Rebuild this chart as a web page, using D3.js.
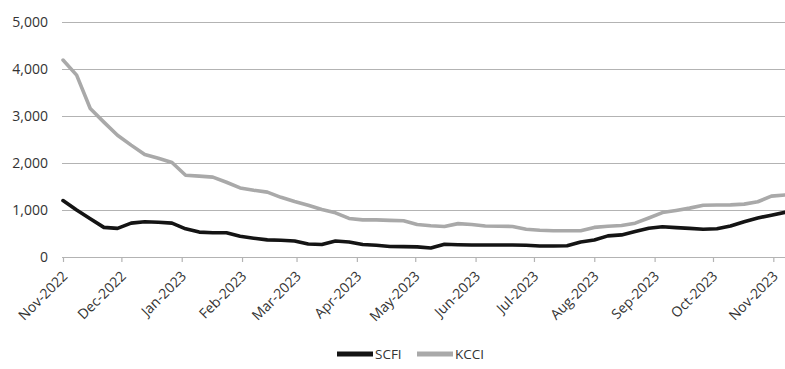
<!DOCTYPE html>
<html>
<head>
<meta charset="utf-8">
<script src="https://cdn.jsdelivr.net/npm/d3@7/dist/d3.min.js"></script>
<style>
  html, body { margin: 0; padding: 0; background: #fff; }
  svg { display: block; }
  text { font-family: "Open Sans", sans-serif; fill: #333; }
</style>
</head>
<body>
<svg id="chart" width="785" height="369"></svg>
<script>
// Weekly observation dates
const dates = [
  "2022-11-01","2022-11-08","2022-11-15","2022-11-22","2022-11-29",
  "2022-12-06","2022-12-13","2022-12-20","2022-12-27",
  "2023-01-03","2023-01-10","2023-01-17","2023-01-24","2023-01-31",
  "2023-02-07","2023-02-14","2023-02-21","2023-02-28",
  "2023-03-07","2023-03-14","2023-03-21","2023-03-28",
  "2023-04-04","2023-04-11","2023-04-18","2023-04-25",
  "2023-05-02","2023-05-09","2023-05-16","2023-05-23","2023-05-30",
  "2023-06-06","2023-06-13","2023-06-20","2023-06-27",
  "2023-07-04","2023-07-11","2023-07-18","2023-07-25",
  "2023-08-01","2023-08-08","2023-08-15","2023-08-22","2023-08-29",
  "2023-09-05","2023-09-12","2023-09-19","2023-09-26",
  "2023-10-03","2023-10-10","2023-10-17","2023-10-24","2023-10-31",
  "2023-11-07"
];

// SCFI index values
const scfi = [
  1200, 1000, 815, 630, 610,
  720, 750, 740, 720,
  600, 530, 515, 515, 440,
  400, 365, 355, 340,
  275, 265, 340, 320,
  265, 250, 225, 220,
  215, 190, 270, 262, 255,
  255, 255, 255, 250,
  234, 234, 240, 320,
  360, 450, 470, 540, 610,
  645, 625, 610, 590,
  600, 660, 750, 830, 890,
  950
];

// KCCI index values
const kcci = [
  4190, 3870, 3160, 2870, 2590,
  2380, 2180, 2100, 2010,
  1740, 1720, 1700, 1590, 1470,
  1420, 1380, 1270, 1180,
  1100, 1010, 940, 820,
  790, 790, 780, 770,
  690, 665, 650, 710, 690,
  660, 655, 650, 590,
  570, 560, 560, 560,
  630, 655, 670, 720, 830,
  945, 990, 1040, 1100,
  1105, 1110, 1125, 1175, 1295,
  1320
];

const yTicks = [0, 1000, 2000, 3000, 4000, 5000];

const seriesNames = ["SCFI", "KCCI"];
const seriesColors = ["#141414", "#a9a9a9"];

const svg = d3.select("#chart");
const parse = d3.utcParse("%Y-%m-%d");
const fmtMonth = d3.utcFormat("%b-%Y");

const x = d3.scaleUtc()
  .domain([parse("2022-11-01"), parse("2023-11-07")])
  .range([63, 785]);

const y = d3.scaleLinear()
  .domain([0, 5000])
  .range([257, 22]);

// Horizontal gridlines with value labels
const yAxis = svg.append("g")
  .attr("transform", "translate(62,0)")
  .call(d3.axisLeft(y)
    .tickValues(yTicks)
    .tickSize(-(785 - 62))
    .tickPadding(14)
    .tickFormat(d3.format(",")));
yAxis.select(".domain").remove();
yAxis.selectAll(".tick line")
  .attr("stroke", "#b3b3b3")
  .attr("stroke-width", 1.2);
yAxis.selectAll(".tick text")
  .style("font-size", "14px")
  .attr("fill", "#333");

// Month axis along the zero line
const xAxis = svg.append("g")
  .attr("transform", "translate(0,257)")
  .call(d3.axisBottom(x)
    .ticks(d3.utcMonth.every(1))
    .tickSize(5)
    .tickFormat(fmtMonth));
xAxis.select(".domain")
  .attr("stroke", "#b3b3b3")
  .attr("stroke-width", 1.2)
  .attr("d", "M62,0.5H785");
xAxis.selectAll(".tick line")
  .attr("stroke", "#b3b3b3")
  .attr("stroke-width", 1.2);
xAxis.selectAll(".tick text")
  .style("font-size", "14px")
  .attr("fill", "#333")
  .attr("text-anchor", "end")
  .attr("dy", null)
  .attr("y", 0)
  .attr("transform", "translate(5,20) rotate(-45)");

// Series lines
const rows = dates.map((d, i) => ({ date: parse(d), scfi: scfi[i], kcci: kcci[i] }));
const keys = ["scfi", "kcci"];
const lines = svg.append("g");
keys.slice().reverse().forEach((k) => {
  const idx = keys.indexOf(k);
  lines.append("path")
    .datum(rows)
    .attr("fill", "none")
    .attr("stroke", seriesColors[idx])
    .attr("stroke-width", 3.6)
    .attr("stroke-linejoin", "round")
    .attr("stroke-linecap", "round")
    .attr("d", d3.line().x(d => x(d.date)).y(d => y(d[k])));
});

// Legend
const legend = svg.append("g").attr("transform", "translate(337,354)");
const legendX = [0, 80];
seriesNames.forEach((name, i) => {
  const g = legend.append("g").attr("transform", `translate(${legendX[i]},0)`);
  g.append("line")
    .attr("x1", 0).attr("x2", 36)
    .attr("stroke", seriesColors[i])
    .attr("stroke-width", 5);
  g.append("text")
    .attr("x", 38)
    .attr("dy", "0.35em")
    .style("font-size", "13.5px")
    .text(name);
});
</script>
</body>
</html>
